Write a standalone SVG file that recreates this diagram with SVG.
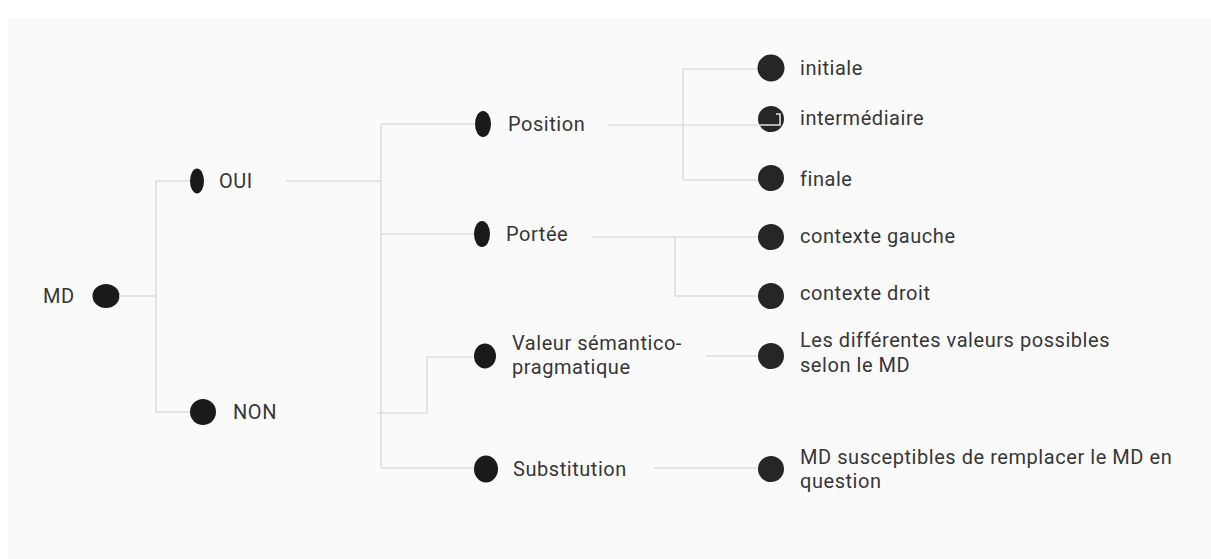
<svg xmlns="http://www.w3.org/2000/svg" width="1211" height="559" viewBox="0 0 1211 559">
  <style>
    .bg { fill: #fafafa; }
    .wire { fill: none; stroke: #dedede; stroke-width: 1.6; }
    .dot { fill: #1a1a1a; }
    .leaf { fill: #262626; }
    .lbl { font-family: Roboto, "Liberation Sans", sans-serif; font-size: 20px; letter-spacing: 0.55px; fill: #363636; }
  </style>
  <rect class="bg" x="8" y="18" width="1203" height="541"/>

  <g id="nodes">
    <g id="n-md"><ellipse class="dot" cx="106" cy="296" rx="13.5" ry="12"/><text class="lbl" x="43" y="303">MD</text></g>
    <g id="n-oui"><ellipse class="dot" cx="197" cy="181" rx="7" ry="12.5"/><text class="lbl" x="219" y="188">OUI</text></g>
    <g id="n-non"><ellipse class="dot" cx="203" cy="412" rx="13" ry="13"/><text class="lbl" x="233" y="419">NON</text></g>
    <g id="n-position"><ellipse class="dot" cx="483" cy="124" rx="8" ry="13"/><text class="lbl" x="508" y="131">Position</text></g>
    <g id="n-portee"><ellipse class="dot" cx="482" cy="234" rx="8" ry="13"/><text class="lbl" x="506" y="241">Portée</text></g>
    <g id="n-valeur"><ellipse class="dot" cx="485" cy="356" rx="11" ry="12.5"/><text class="lbl" x="512" y="350">Valeur sémantico-</text><text class="lbl" x="512" y="374">pragmatique</text></g>
    <g id="n-substitution"><ellipse class="dot" cx="486" cy="469" rx="12" ry="13.5"/><text class="lbl" x="513" y="476">Substitution</text></g>
    <g id="n-initiale"><circle class="leaf" cx="771" cy="68" r="13.5"/><text class="lbl" x="800" y="75">initiale</text></g>
    <g id="n-intermediaire"><circle class="leaf" cx="771" cy="119" r="13"/><text class="lbl" x="800" y="125">intermédiaire</text></g>
    <g id="n-finale"><circle class="leaf" cx="771" cy="178" r="13"/><text class="lbl" x="800" y="186">finale</text></g>
    <g id="n-gauche"><circle class="leaf" cx="771" cy="237" r="13"/><text class="lbl" x="800" y="243">contexte gauche</text></g>
    <g id="n-droit"><circle class="leaf" cx="771" cy="296" r="13"/><text class="lbl" x="800" y="300">contexte droit</text></g>
    <g id="n-valeurs"><circle class="leaf" cx="771" cy="356" r="13"/><text class="lbl" x="800" y="347">Les différentes valeurs possibles</text><text class="lbl" x="800" y="372">selon le MD</text></g>
    <g id="n-remplacer"><circle class="leaf" cx="771" cy="469" r="13"/><text class="lbl" x="800" y="464">MD susceptibles de remplacer le MD en</text><text class="lbl" x="800" y="488">question</text></g>
  </g>

  <g id="connectors">
    <path class="wire" d="M119 296 H156 M156 181 V412 M156 181 H190 M156 412 H190"/>
    <path class="wire" d="M286 181 H381 M381 124 V468 M381 124 H475 M381 234 H474 M381 468 H474 M378 413 H427 V357 H474"/>
    <path class="wire" d="M608 125 H683 M683 69 V180 M683 69 H757 M683 180 H758 M683 125 H780 V114 H776"/>
    <path class="wire" d="M592 237 H758 M675 237 V296 H758"/>
    <path class="wire" d="M706 356 H758"/>
    <path class="wire" d="M654 468 H758"/>
  </g>
</svg>
